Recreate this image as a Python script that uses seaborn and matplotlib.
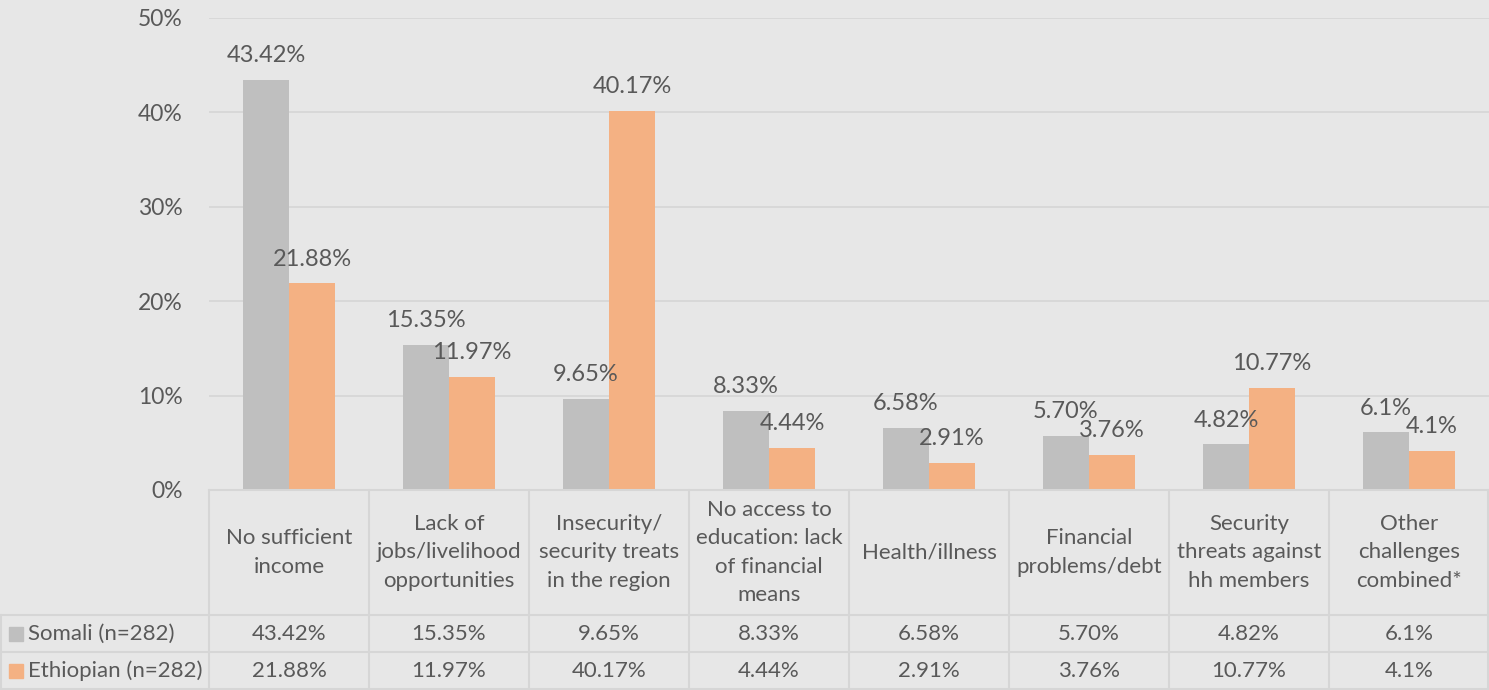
import matplotlib
matplotlib.use("Agg")
import matplotlib.pyplot as plt
import seaborn as sns
import pandas as pd
from matplotlib.lines import Line2D
from matplotlib.patches import Rectangle

categories = [
    "No sufficient\nincome",
    "Lack of\njobs/livelihood\nopportunities",
    "Insecurity/\nsecurity treats\nin the region",
    "No access to\neducation: lack\nof financial\nmeans",
    "Health/illness",
    "Financial\nproblems/debt",
    "Security\nthreats against\nhh members",
    "Other\nchallenges\ncombined*",
]
series_names = ["Somali (n=282)", "Ethiopian (n=282)"]
somali = [43.42, 15.35, 9.65, 8.33, 6.58, 5.70, 4.82, 6.1]
ethiopian = [21.88, 11.97, 40.17, 4.44, 2.91, 3.76, 10.77, 4.1]
somali_labels = ["43.42%", "15.35%", "9.65%", "8.33%", "6.58%", "5.70%", "4.82%", "6.1%"]
ethiopian_labels = ["21.88%", "11.97%", "40.17%", "4.44%", "2.91%", "3.76%", "10.77%", "4.1%"]
yticks = [0, 10, 20, 30, 40, 50]

colors = ["#BFBFBF", "#F4B183"]
bg = "#E7E7E7"
txt = "#595959"
gridc = "#D6D6D6"

sns.set_theme(style="white")
plt.rcParams["font.family"] = ["Lato", "DejaVu Sans"]

df = pd.DataFrame({
    "cat": list(range(len(categories))) * 2,
    "val": somali + ethiopian,
    "series": [series_names[0]] * len(categories) + [series_names[1]] * len(categories),
})

W, H = 1489, 690
fig = plt.figure(figsize=(W / 100, H / 100), dpi=100, facecolor=bg)

x0, x1 = 209, 1489
y0, y50 = 490, 18
ax = fig.add_axes([x0 / W, (H - y0) / H, (x1 - x0) / W, (y0 - y50) / H])
ax.set_facecolor(bg)

sns.barplot(data=df, x="cat", y="val", hue="series", palette=colors,
            width=0.575, gap=0, ax=ax, legend=False, saturation=1, errorbar=None,
            linewidth=0, edgecolor="none")

ax.set_ylim(0, 50)
ax.set_xlim(-0.5, len(categories) - 0.5)
ax.set_yticks(yticks)
ax.set_yticklabels([f"{t}%" for t in yticks], color=txt, fontsize=16.5)
ax.tick_params(axis="y", length=0, pad=19)
ax.set_xticks([])
ax.set_xlabel("")
ax.set_ylabel("")
for s in ax.spines.values():
    s.set_visible(False)
ax.grid(axis="y", color=gridc, linewidth=1.2)
ax.set_axisbelow(True)

for cont, labs in zip(ax.containers, [somali_labels, ethiopian_labels]):
    ax.bar_label(cont, labels=labs, padding=10, color=txt, fontsize=17, clip_on=False)

# data table
def fx(px):
    return px / W

def fy(py):
    return 1 - py / H

r1, r2, r3 = 615, 652, 690
lw = 1.5
lines = []
lines.append(((x0, x1), (y0, y0)))
lines.append(((0, x1), (r1, r1)))
lines.append(((0, x1), (r2, r2)))
lines.append(((0, x1), (r3 - 1, r3 - 1)))
for i in range(len(categories) + 1):
    xv = x0 + i * 160
    if xv >= W:
        xv = W - 1
    lines.append(((xv, xv), (y0, r3)))
lines.append(((1, 1), (r1, r3)))
for xs, ys in lines:
    fig.add_artist(Line2D([fx(xs[0]), fx(xs[1])], [fy(ys[0]), fy(ys[1])],
                          color=gridc, linewidth=lw, transform=fig.transFigure))

for i, cat in enumerate(categories):
    cx = x0 + i * 160 + 80
    fig.text(fx(cx), fy((y0 + r1) / 2), cat, ha="center", va="center",
             color=txt, fontsize=16, linespacing=1.53)
    fig.text(fx(cx), fy((r1 + r2) / 2), somali_labels[i], ha="center", va="center",
             color=txt, fontsize=16)
    fig.text(fx(cx), fy((r2 + r3) / 2), ethiopian_labels[i], ha="center", va="center",
             color=txt, fontsize=16)

for name, c, (ya, yb) in zip(series_names, colors, [(r1, r2), (r2, r3)]):
    yc = (ya + yb) / 2
    fig.add_artist(Rectangle((fx(9), fy(yc + 7)), 14 / W, 14 / H, color=c,
                             transform=fig.transFigure))
    fig.text(fx(28), fy(yc), name, ha="left", va="center", color=txt, fontsize=16)

fig.savefig("out.png", dpi=100, facecolor=bg)
